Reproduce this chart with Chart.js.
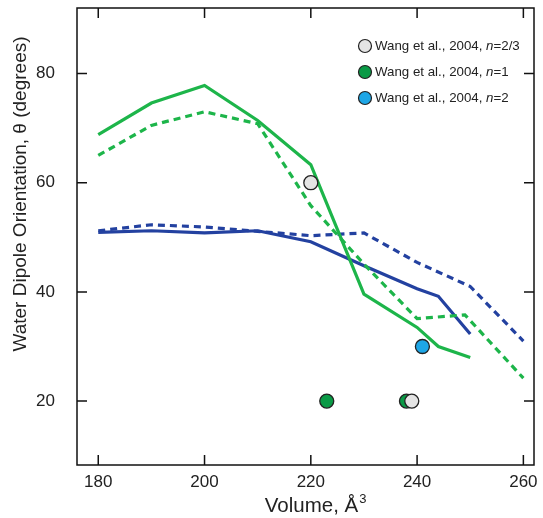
<!DOCTYPE html>
<html>
<head>
<meta charset="utf-8">
<script src="https://cdn.jsdelivr.net/npm/chart.js@4.4.1/dist/chart.umd.min.js"></script>
<style>
  body { margin: 0; background: #fff; }
  canvas { display: block; }
</style>
</head>
<body>
<canvas id="myChart" width="543" height="518"></canvas>
<script>
// tick labels
const xTicks = [180, 200, 220, 240, 260];
const yTicks = [20, 40, 60, 80];

// simulation curves (volume in A^3, angle in degrees)
const greenSolidVol = [180, 190, 200, 210, 220, 230, 240, 244, 250];
const greenSolidTheta = [68.8, 74.6, 77.8, 71.4, 63.3, 39.6, 33.5, 30.0, 28.0];
const greenDashVol = [180, 190, 200, 210, 220, 230, 240, 249, 260];
const greenDashTheta = [65.0, 70.5, 73.0, 70.8, 55.8, 45.1, 35.1, 35.8, 24.2];
const blueSolidVol = [180, 190, 200, 210, 220, 230, 240, 244, 250];
const blueSolidTheta = [50.9, 51.2, 50.8, 51.2, 49.2, 44.8, 40.6, 39.2, 32.3];
const blueDashVol = [180, 190, 200, 210, 220, 230, 240, 250, 260];
const blueDashTheta = [51.2, 52.3, 51.9, 51.1, 50.3, 50.8, 45.4, 41.0, 31.0];

// Wang et al., 2004 points
const wang23Vol = [220, 239];
const wang23Theta = [60, 20];
const wang1Vol = [223, 238];
const wang1Theta = [20, 20];
const wang2Vol = [241];
const wang2Theta = [30];

const legendItems = [
  { label: 'Wang et al., 2004, ', n: '=2/3', color: '#e4e4e4' },
  { label: 'Wang et al., 2004, ', n: '=1', color: '#0a9a46' },
  { label: 'Wang et al., 2004, ', n: '=2', color: '#1ea6e6' }
];

function pts(xs, ys) {
  return xs.map((x, i) => ({ x: x, y: ys[i] }));
}

const greenLine = '#1db54a';
const blueLine = '#2341a0';
const FONT = '"Liberation Sans", Arial, sans-serif';

const framePlugin = {
  id: 'frame',
  afterDraw(chart) {
    const ctx = chart.ctx;
    const a = chart.chartArea;
    const xs = chart.scales.x, ys = chart.scales.y;
    ctx.save();
    ctx.strokeStyle = '#111';
    ctx.lineWidth = 1.5;
    ctx.strokeRect(a.left, a.top, a.right - a.left, a.bottom - a.top);
    ctx.beginPath();
    xTicks.forEach(v => {
      const px = xs.getPixelForValue(v);
      ctx.moveTo(px, a.bottom); ctx.lineTo(px, a.bottom - 10);
      ctx.moveTo(px, a.top); ctx.lineTo(px, a.top + 10);
    });
    yTicks.forEach(v => {
      const py = ys.getPixelForValue(v);
      ctx.moveTo(a.left, py); ctx.lineTo(a.left + 10, py);
      ctx.moveTo(a.right, py); ctx.lineTo(a.right - 10, py);
    });
    ctx.stroke();

    // legend
    ctx.textBaseline = 'middle';
    legendItems.forEach((it, i) => {
      const y = 46 + i * 26;
      ctx.beginPath();
      ctx.arc(365, y, 6.5, 0, Math.PI * 2);
      ctx.fillStyle = it.color;
      ctx.fill();
      ctx.lineWidth = 1.2;
      ctx.strokeStyle = '#222';
      ctx.stroke();
      ctx.fillStyle = '#222';
      let x = 375;
      ctx.font = '13.3px ' + FONT;
      ctx.fillText(it.label, x, y);
      x += ctx.measureText(it.label).width;
      ctx.font = 'italic 13.3px ' + FONT;
      ctx.fillText('n', x, y);
      x += ctx.measureText('n').width;
      ctx.font = '13.3px ' + FONT;
      ctx.fillText(it.n, x, y);
    });

    // axis titles
    ctx.fillStyle = '#222';
    ctx.font = '19px ' + FONT;
    ctx.textAlign = 'center';
    ctx.textBaseline = 'middle';
    ctx.save();
    ctx.translate(21, 194);
    ctx.rotate(-Math.PI / 2);
    ctx.fillText('Water Dipole Orientation, \u03b8 (degrees)', 0, 0);
    ctx.restore();

    ctx.textAlign = 'left';
    ctx.textBaseline = 'alphabetic';
    ctx.font = '20.5px ' + FONT;
    const t = 'Volume, \u00c5';
    const w = ctx.measureText(t).width;
    const x0 = 316 - (w + 9) / 2;
    ctx.fillText(t, x0, 512);
    ctx.font = '13px ' + FONT;
    ctx.fillText('3', x0 + w + 1, 503);
    ctx.restore();
  }
};

function markerSet(xs, ys, color) {
  return {
    type: 'scatter',
    data: pts(xs, ys),
    backgroundColor: color,
    borderColor: '#222',
    borderWidth: 1.3,
    pointRadius: 7,
    pointHoverRadius: 7
  };
}

function lineSet(xs, ys, color, dashed) {
  return {
    type: 'line',
    data: pts(xs, ys),
    borderColor: color,
    borderWidth: 3.2,
    borderDash: dashed ? [7, 5] : [],
    pointRadius: 0,
    fill: false,
    tension: 0
  };
}

const ctx = document.getElementById('myChart').getContext('2d');
new Chart(ctx, {
  data: {
    datasets: [
      markerSet(wang23Vol, wang23Theta, '#e4e4e4'),
      markerSet(wang1Vol, wang1Theta, '#0a9a46'),
      markerSet(wang2Vol, wang2Theta, '#1ea6e6'),
      lineSet(greenSolidVol, greenSolidTheta, greenLine, false),
      lineSet(greenDashVol, greenDashTheta, greenLine, true),
      lineSet(blueSolidVol, blueSolidTheta, blueLine, false),
      lineSet(blueDashVol, blueDashTheta, blueLine, true)
    ]
  },
  options: {
    responsive: false,
    animation: false,
    layout: { autoPadding: false, padding: { top: 8, right: 9, left: 0, bottom: 0 } },
    scales: {
      x: {
        type: 'linear',
        min: 176,
        max: 262,
        afterBuildTicks: s => { s.ticks = xTicks.map(v => ({ value: v })); },
        afterFit: s => { s.height = 53; },
        // grid hidden; tickLength only offsets the labels (marks drawn by plugin)
        grid: { display: false, drawTicks: true, tickLength: 7 },
        border: { display: false },
        ticks: {
          padding: 0,
          color: '#222',
          font: { size: 17, family: FONT }
        }
      },
      y: {
        type: 'linear',
        min: 8.3,
        max: 92,
        afterBuildTicks: s => { s.ticks = yTicks.map(v => ({ value: v })); },
        afterFit: s => { s.width = 77; },
        grid: { display: false, drawTicks: true, tickLength: 22 },
        border: { display: false },
        ticks: {
          padding: 0,
          color: '#222',
          font: { size: 17, family: FONT, lineHeight: 0.9 }
        }
      }
    },
    plugins: {
      legend: { display: false },
      tooltip: { enabled: false }
    }
  },
  plugins: [framePlugin]
});
</script>
</body>
</html>
